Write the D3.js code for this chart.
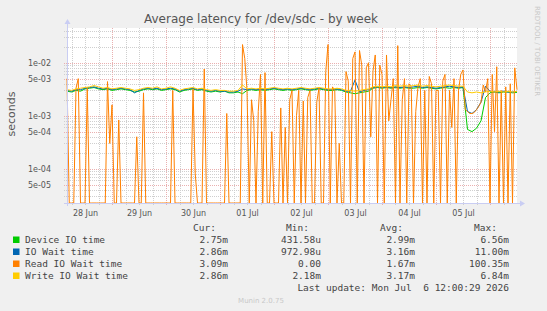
<!DOCTYPE html>
<meta charset="utf-8">
<style>
  body { margin: 0; background: #f0f0f0; }
  svg { display: block; }
  .title { font-family: "DejaVu Sans", sans-serif; font-size: 12px; fill: #555; text-anchor: middle; }
  .unit { font-family: "DejaVu Sans", sans-serif; font-size: 11px; fill: #555; text-anchor: middle; }
  .axis text { font-family: "DejaVu Sans", sans-serif; font-size: 8px; fill: #555; }
  .axis path, .axis line { display: none; }
  .legend text { font-family: "DejaVu Sans Mono", monospace; font-size: 9.5px; fill: #444; }
  .mark { font-family: "DejaVu Sans", sans-serif; font-size: 7px; fill: #c8c8c8; }
  .grid-minor { stroke: #cfcfcf; stroke-width: 1; stroke-dasharray: 1,1; shape-rendering: crispEdges; }
  .grid-major { stroke: #eab0b0; stroke-width: 1; stroke-dasharray: 1,1; shape-rendering: crispEdges; }
  .series { fill: none; stroke-width: 1; stroke-linejoin: round; }
</style>
<svg width="547" height="311"></svg>
<script src="https://d3js.org/d3.v7.min.js"></script>
<script>

var startTime = new Date(2026, 5, 28, 4, 0),
    endTime = new Date(2026, 6, 6, 12, 0);

// 2-hour averages, milliseconds
var deviceIO = [2.9,2.8,3.0,2.9,3.2,3.3,3.4,3.2,3.1,3.2,3.0,3.1,3.2,3.1,3.0,2.8,2.9,3.1,3.2,3.1,
  3.2,3.0,3.1,3.2,3.1,2.8,3.0,3.1,3.2,3.0,3.1,2.9,2.8,2.9,2.8,2.9,2.7,2.7,2.8,2.6,
  3.0,3.1,3.0,3.1,3.0,3.1,3.2,3.1,3.0,3.1,3.0,3.1,3.2,3.1,3.0,3.1,3.2,3.1,3.0,3.0,
  3.1,3.0,2.8,2.7,2.6,2.7,2.8,2.9,3.3,3.4,3.3,3.4,3.3,3.4,3.3,3.4,3.3,3.3,3.4,3.3,
  3.4,3.3,3.2,3.3,3.4,3.3,3.4,3.3,3.4,0.55,0.5,0.58,0.8,2.2,2.7,2.8,2.7,2.8,2.8,2.7,2.75];
var ioWait = [3.0,2.9,3.1,3.1,3.3,3.4,3.5,3.3,3.2,3.3,3.1,3.2,3.3,3.2,3.1,2.7,3.0,3.2,3.3,3.2,
  3.3,3.1,3.2,3.3,3.2,2.9,3.1,3.2,3.3,3.1,3.2,3.0,2.9,3.0,2.9,2.9,2.8,2.8,2.9,3.2,
  3.1,3.2,3.1,3.2,3.1,3.2,3.3,3.2,3.1,3.2,3.1,3.2,3.3,3.2,3.1,3.2,3.3,3.2,3.1,3.1,
  3.2,3.1,2.9,2.9,4.7,2.8,3.0,3.1,3.4,3.5,3.4,3.5,3.4,3.5,3.4,3.5,3.4,3.5,3.6,3.4,
  3.5,3.4,3.3,3.4,3.5,3.6,3.5,3.4,3.5,1.2,1.1,1.3,1.8,3.6,2.9,2.8,2.8,2.9,2.8,2.8,2.86];
var writeIO = [3.1,3.0,3.2,3.3,3.4,3.5,3.7,3.5,3.3,3.4,3.2,3.3,3.4,3.3,3.2,3.0,3.1,3.3,3.4,3.3,
  3.5,3.2,3.3,3.5,3.3,3.0,3.2,3.3,3.4,3.2,3.3,3.1,3.0,3.1,3.0,3.0,2.9,2.9,3.0,3.8,
  3.2,3.3,3.2,3.3,3.2,3.3,3.4,3.3,3.2,3.3,3.2,3.3,3.4,3.3,3.2,3.3,3.4,3.3,3.2,3.2,
  3.3,3.2,3.0,3.0,2.9,3.0,3.1,3.2,3.5,3.6,3.5,3.6,3.5,3.7,3.6,3.7,3.6,3.7,3.8,3.6,
  3.7,3.6,3.5,3.6,3.7,3.8,3.7,3.6,3.6,2.8,2.7,2.8,2.7,2.8,2.9,2.8,2.9,2.8,2.9,2.8,2.86];
// hourly averages, milliseconds (0 = no reads)
var readIO = [5.0,0,0,0,3.3,5.0,0,0,0,3.3, 0,0,0,0,0,0,0,0,4.4,0.3,
  1.6,0,0,0.83,0,0,0,0,0,0, 0,0.4,0,0,2.7,0,0,0,0,0, 0,0,0,0,0,0,0,3.0,0,0,
  0,0,0,0,0,0,3.2,0.08,0,0, 0,7.6,0,0,0,0,0,0,0,0, 0,1.1,0,0,0,0,0,0,22,12,
  3.0,0,2.0,0.8,0,1.2,6.0,0,6.5,0, 0,0.5,0,0,0,1.4,0,0.6,0,2.0, 3.0,0,1.0,3.0,0,1.9,0,2.2,3.0,0,
  0,1.8,3.3,0,0,6.8,22,0,3.5,3.0, 0,0.3,0,0,6.8,4.5,0,12,16,0, 17,9,0,8,10,0.4,7,14,0,9,
  6,0,14,0.8,2,5,0,21,0,2, 5,0,4,3.5,0,1.2,3.5,5,0,3, 0,5.5,4,0,3,3,0,4.5,6,0,
  3,0.6,5,0,3,6,7.3,1.3,1.2,1.1, 1.1,1.15,1.3,1.5,1.8,3.8,2.8,5,0,6, 0.5,8.4,0,3,0,3.5,0,4,0,8,
  3.09];

var seriesNames = ["Device IO time", "IO Wait time", "Read IO Wait time", "Write IO Wait time"];
var seriesColors = ["#00cc00", "#0066b3", "#ff8000", "#ffcc00"];
var curVals = ["2.75m", "2.86m", "3.09m", "2.86m"];
var minVals = ["431.58u", "972.98u", "0.00", "2.18m"];
var avgVals = ["2.99m", "3.16m", "1.67m", "3.17m"];
var maxVals = ["6.56m", "11.00m", "100.35m", "6.84m"];
var yLabelTicks = [1e-2, 5e-3, 1e-3, 5e-4, 1e-4, 5e-5];

var svg = d3.select("svg");

var x = d3.scaleTime().domain([startTime, endTime]).range([67, 517]);
var y = d3.scaleLog().domain([2.25e-5, 0.0452]).range([203, 28]);

function toPoints(arr, stepHours) {
  return arr.map(function(v, i) {
    return { t: d3.timeHour.offset(startTime, i * stepHours), v: v / 1000 };
  });
}

function fmtExp(v) {
  var p = v.toExponential(0).split("e");
  var e = +p[1];
  return p[0] + "e" + (e < 0 ? "-" : "+") + String(Math.abs(e)).padStart(2, "0");
}

// plot background
svg.append("rect")
    .attr("x", x.range()[0]).attr("y", y.range()[1])
    .attr("width", x.range()[1] - x.range()[0])
    .attr("height", y.range()[0] - y.range()[1])
    .attr("fill", "#fff");

// horizontal grid
var hMinor = [], hMajor = [];
for (var e = -5; e <= -2; e++) {
  for (var k = 1; k <= 9; k++) {
    var v = k * Math.pow(10, e);
    if (v < y.domain()[0] || v > y.domain()[1]) continue;
    if (k == 1 || k == 5) hMajor.push(v); else hMinor.push(v);
  }
}
var grid = svg.append("g");
grid.selectAll(".hmin").data(hMinor).enter().append("line")
    .attr("class", "grid-minor")
    .attr("x1", 64).attr("x2", x.range()[1])
    .attr("y1", function(d) { return Math.round(y(d)) + 0.5; })
    .attr("y2", function(d) { return Math.round(y(d)) + 0.5; });

// vertical grid, every 6 hours
var vTimes = d3.timeHour.every(6).range(startTime, endTime);
grid.selectAll(".vg").data(vTimes).enter().append("line")
    .attr("class", function(d) { return d.getHours() == 0 ? "grid-major" : "grid-minor"; })
    .attr("x1", function(d) { return Math.round(x(d)) + 0.5; })
    .attr("x2", function(d) { return Math.round(x(d)) + 0.5; })
    .attr("y1", y.range()[1]).attr("y2", 206);

grid.selectAll(".hmaj").data(hMajor).enter().append("line")
    .attr("class", "grid-major")
    .attr("x1", 64).attr("x2", x.range()[1])
    .attr("y1", function(d) { return Math.round(y(d)) + 0.5; })
    .attr("y2", function(d) { return Math.round(y(d)) + 0.5; });

// series
var line = d3.line()
    .x(function(d) { return x(d.t); })
    .y(function(d) { return d.v > 0 ? y(d.v) : y.range()[0]; });

var plotData = [toPoints(deviceIO, 2), toPoints(ioWait, 2), toPoints(readIO, 1), toPoints(writeIO, 2)];
svg.append("g").selectAll("path")
    .data(plotData).enter().append("path")
    .attr("class", "series")
    .attr("stroke", function(d, i) { return seriesColors[i]; })
    .attr("d", line);

// axes lines with arrows
var axisCol = "#c9cdf3";
svg.append("line").attr("x1", 64).attr("x2", 520).attr("y1", 203.5).attr("y2", 203.5)
    .attr("stroke", axisCol);
svg.append("line").attr("x1", 67.5).attr("x2", 67.5).attr("y1", 206).attr("y2", 24)
    .attr("stroke", axisCol);
svg.append("path").attr("d", "M520,200.5L525,203.5L520,206.5Z").attr("fill", axisCol);
svg.append("path").attr("d", "M64.5,24L67.5,19L70.5,24Z").attr("fill", axisCol);

// y axis labels
svg.append("g").attr("class", "axis")
    .attr("transform", "translate(67,0)")
    .call(d3.axisLeft(y).tickValues(yLabelTicks).tickFormat(fmtExp).tickSize(0).tickPadding(16));

// x axis labels, centred on noon
var dayNoons = d3.timeDay.range(d3.timeDay.floor(startTime), d3.timeDay.floor(endTime))
    .map(function(d) { return d3.timeHour.offset(d, 12); });
svg.append("g").attr("class", "axis")
    .attr("transform", "translate(0,203)")
    .call(d3.axisBottom(x).tickValues(dayNoons).tickFormat(d3.timeFormat("%d %b")).tickSize(0).tickPadding(7));

// titles
svg.append("text").attr("class", "title").attr("x", 261).attr("y", 23)
    .text("Average latency for /dev/sdc - by week");
svg.append("text").attr("class", "unit")
    .attr("transform", "translate(15,114) rotate(-90)")
    .text("seconds");
svg.append("text").attr("class", "mark")
    .attr("transform", "translate(535,6) rotate(90)")
    .text("RRDTOOL / TOBI OETIKER");

// legend
var lg = svg.append("g").attr("class", "legend");
var cols = [{ x: 216, t: "Cur:" }, { x: 309, t: "Min:" }, { x: 403, t: "Avg:" }, { x: 497, t: "Max:" }];
lg.selectAll(".hdr").data(cols).enter().append("text")
    .attr("x", function(d) { return d.x; }).attr("y", 231)
    .attr("text-anchor", "end")
    .text(function(d) { return d.t; });

var rows = lg.selectAll(".row").data(seriesNames).enter().append("g")
    .attr("transform", function(d, i) { return "translate(0," + (243 + i * 12) + ")"; });
rows.append("rect")
    .attr("x", 13).attr("y", -6.5).attr("width", 6.5).attr("height", 6.5)
    .attr("fill", function(d, i) { return seriesColors[i]; });
rows.append("text").attr("x", 25).text(function(d) { return d; });
var valCols = [curVals, minVals, avgVals, maxVals];
valCols.forEach(function(vals, c) {
  rows.append("text")
      .attr("x", cols[c].x + 12)
      .attr("text-anchor", "end")
      .text(function(d, i) { return vals[i]; });
});

lg.append("text").attr("x", 509).attr("y", 291).attr("text-anchor", "end")
    .attr("xml:space", "preserve").style("white-space", "pre")
    .text("Last update: Mon Jul  6 12:00:29 2026");

svg.append("text").attr("class", "mark").attr("x", 261).attr("y", 303)
    .attr("text-anchor", "middle")
    .text("Munin 2.0.75");

</script>
